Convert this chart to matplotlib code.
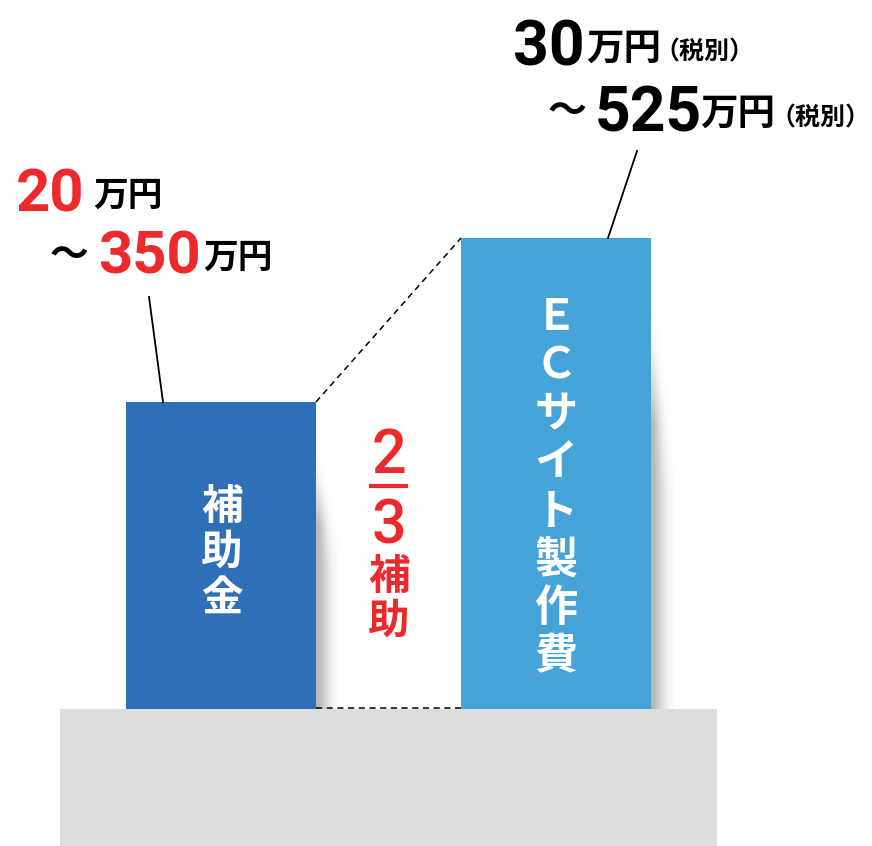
import numpy as np
import matplotlib
matplotlib.use('Agg')
import matplotlib.pyplot as plt
from matplotlib.patches import Rectangle

# データ
bar_labels = ['補助金', 'ＥＣサイト製作費']
bar_heights = [307, 471]            # 棒の高さ
subsidy_range = ['20', '350']       # 補助金 万円
cost_range = ['30', '525']          # 製作費 万円（税別）
unit = '万円'
tax = '（税別）'
ratio = ['2', '3']
ratio_word = '補助'

# 色・フォント
c_left = '#2e6fb7'
c_right = '#45a3d7'
c_red = '#ec2a2c'
c_base = '#dddddd'
cjk = 'Noto Sans CJK JP'
num = ['Roboto', 'Noto Sans CJK JP']

W, H = 872, 846
fig = plt.figure(figsize=(W / 100, H / 100), dpi=100)
ax = fig.add_axes([0, 0, 1, 1])
ax.axis('off')

base_y = 709
bar_x = [126, 461]
bar_w = 190


def shadow(x0, ytop, ybot, wmax):
    rows = int(ybot - ytop)
    cols = int(wmax)
    t = np.linspace(0, 1, rows)[:, None]
    dx = np.arange(cols)[None, :]
    w = wmax * (0.35 + 0.65 * np.clip(t * 2.2, 0, 1))
    fade = np.clip(t * 3.5, 0, 1) ** 1.5
    a = 0.5 * fade * np.exp(-(dx / (w * 0.55)) ** 2)
    img = np.zeros((rows, cols, 4))
    img[..., :3] = 0.42
    img[..., 3] = a
    ax.imshow(img, extent=(x0, x0 + cols, ybot, ytop), aspect='auto',
              interpolation='bilinear', zorder=1)


# 台
ax.add_patch(Rectangle((60, base_y), 657, H - base_y, color=c_base, zorder=0, lw=0))

# 影
shadow(bar_x[0] + bar_w - 1, base_y - bar_heights[0] + 50, base_y, 24)
shadow(bar_x[1] + bar_w - 1, base_y - bar_heights[1] + 70, base_y, 24)

# 棒
ax.bar(bar_x, [-h for h in bar_heights], width=bar_w, bottom=base_y,
       align='edge', color=[c_left, c_right], zorder=2)

# 点線
top_l = base_y - bar_heights[0]
top_r = base_y - bar_heights[1]
ax.plot([bar_x[0] + bar_w, bar_x[1]], [top_l, top_r], color='black', lw=1.1,
        dashes=(4, 3), zorder=3)
ax.plot([bar_x[0] + bar_w, bar_x[1]], [base_y - 1, base_y - 1], color='black', lw=1.1,
        dashes=(4, 3), zorder=3)

# 引き出し線
ax.plot([163, 149], [top_l, 297], color='black', lw=1.3, zorder=3)
ax.plot([608, 637], [top_r, 151], color='black', lw=1.3, zorder=3)

# 棒の中の縦書き
for i, ch in enumerate(bar_labels[0]):
    ax.text(222, 507 + i * 46, ch, color='white', fontsize=30, fontweight='bold',
            family=cjk, ha='center', va='center', zorder=4)
for i, ch in enumerate(bar_labels[1]):
    ax.text(556, 317 + i * 48.5, ch, color='white', fontsize=31, fontweight='bold',
            family=cjk, ha='center', va='center', zorder=4)

# 2/3 補助
ax.text(389, 473, ratio[0], color=c_red, fontsize=44, fontweight='medium',
        family=num, ha='center', va='baseline', zorder=4)
ax.plot([369, 408], [486, 486], color=c_red, lw=3, solid_capstyle='butt', zorder=4)
ax.text(389, 543, ratio[1], color=c_red, fontsize=44, fontweight='medium',
        family=num, ha='center', va='baseline', zorder=4)
for i, ch in enumerate(ratio_word):
    ax.text(389, 577 + i * 45, ch, color=c_red, fontsize=30, fontweight='bold',
            family=cjk, ha='center', va='center', zorder=4)

# 左の金額
ax.text(16, 212, subsidy_range[0], color=c_red, fontsize=43, fontweight='bold',
        family=num, ha='left', va='baseline')
ax.text(93, 206, unit, color='black', fontsize=25, fontweight='bold',
        family=cjk, ha='left', va='baseline')
ax.text(50, 255, '～', color='black', fontsize=28, fontweight='bold',
        family=cjk, ha='left', va='center')
ax.text(98, 274, subsidy_range[1], color=c_red, fontsize=43, fontweight='bold',
        family=num, ha='left', va='baseline')
ax.text(203, 268, unit, color='black', fontsize=25, fontweight='bold',
        family=cjk, ha='left', va='baseline')

# 右の金額
ax.text(513, 66, cost_range[0], color='black', fontsize=45, fontweight='bold',
        family=num, ha='left', va='baseline')
ax.text(586, 60, unit, color='black', fontsize=27, fontweight='bold',
        family=cjk, ha='left', va='baseline')
ax.text(654, 60, tax, color='black', fontsize=18, fontweight='bold',
        family=cjk, ha='left', va='baseline')
ax.text(548, 111, '～', color='black', fontsize=28, fontweight='bold',
        family=cjk, ha='left', va='center')
ax.text(595, 131, cost_range[1], color='black', fontsize=45, fontweight='bold',
        family=num, ha='left', va='baseline')
ax.text(700, 125, unit, color='black', fontsize=27, fontweight='bold',
        family=cjk, ha='left', va='baseline')
ax.text(770, 126, tax, color='black', fontsize=18, fontweight='bold',
        family=cjk, ha='left', va='baseline')

ax.set_xlim(0, W)
ax.set_ylim(H, 0)
fig.savefig('out.png', dpi=100, facecolor='white')
